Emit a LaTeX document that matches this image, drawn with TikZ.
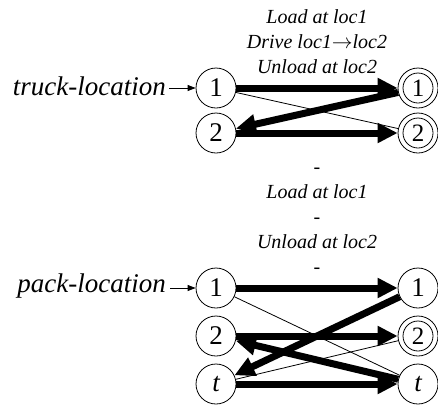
\documentclass[tikz,border=0pt]{standalone}
\usepackage{fontspec}
\setmainfont{Liberation Serif}
\usetikzlibrary{arrows.meta}
\begin{document}
\begin{tikzpicture}[x=1pt,y=-1pt,
  st/.style={circle,draw,line width=0.8pt,minimum size=40pt,inner sep=0pt,font=\fontsize{27}{27}\selectfont},
  fin/.style={st,path picture={\draw[line width=0.8pt] (path picture bounding box.center) circle (15pt);},font=\fontsize{25}{25}\selectfont},
  lbl/.style={font=\fontsize{20}{25}\selectfont\itshape,align=center,inner sep=0pt},
  var/.style={font=\fontsize{27}{27}\selectfont\itshape,inner sep=0pt,anchor=east},
  thick/.style={line width=7pt,-{Triangle[length=20pt,width=19pt]}},
  thin/.style={line width=0.8pt},
  small/.style={line width=0.8pt,-{Triangle[length=8pt,width=6pt]}}
]
\useasboundingbox (0,0) rectangle (438,410);
% top automaton
\node[st] (a1) at (216,88) {1};
\node[st] (a2) at (216,133) {2};
\node[fin] (b1) at (418,88) {1};
\node[fin] (b2) at (418,133) {2};
\node[var] (tl) at (166,86) {truck-location};
\draw[small] (tl.east) ++(3,2) coordinate (tla) -- (a1);
\node[lbl] (la) at (317,42) {Load at loc1\\Drive loc1$\rightarrow$loc2\\Unload at loc2};
\draw[thin] (a1) -- (b2);
\draw[thick] (a1) -- (b1);
\draw[thick] (b1) -- (a2);
\draw[thick] (a2) -- (b2);
% bottom automaton
\node[st] (c1) at (216,288) {1};
\node[st] (c2) at (216,336) {2};
\node[st] (c3) at (216,384) {\itshape t};
\node[st] (d1) at (418,288) {1};
\node[fin] (d2) at (418,336) {2};
\node[st] (d3) at (418,384) {\itshape t};
\node[var] (pl) at (166,286) {pack-location};
\draw[small] (pl.east) ++(4,2) coordinate (pla) -- (c1);
\node[lbl] (lb) at (317,221) {-\\Load at loc1\\-\\Unload at loc2\\-};
\draw[thin] (c1) -- (d3);
\draw[thin] (c3) -- (d2);
\draw[thick] (c1) -- (d1);
\draw[thick] (d1) -- (c3);
\draw[thick] (c2) -- (d2);
\draw[thick] (d3) -- (c2);
\draw[thick] (c3) -- (d3);
\end{tikzpicture}
\end{document}
